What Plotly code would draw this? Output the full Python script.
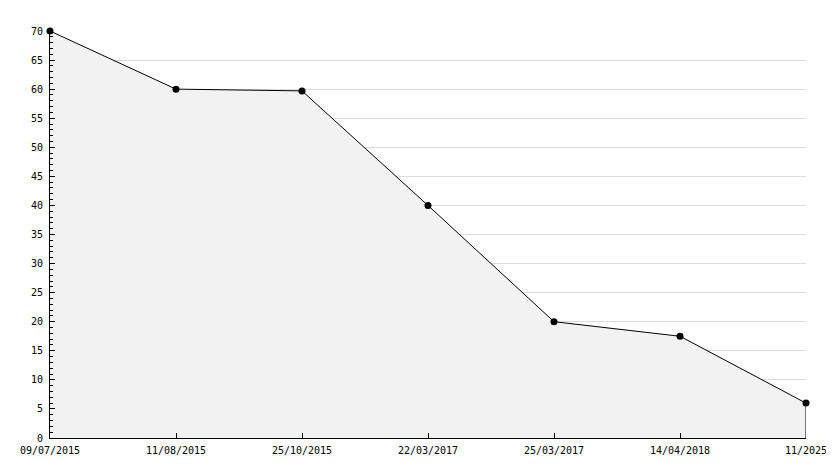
import plotly.graph_objects as go

dates = ["09/07/2015", "11/08/2015", "25/10/2015", "22/03/2017", "25/03/2017", "14/04/2018", "11/2025"]
values = [70, 60, 59.7, 40, 20, 17.5, 6]
y_ticks = list(range(0, 71, 5))

xs = list(range(len(dates)))

fig = go.Figure()
fig.add_trace(go.Scatter(
    x=xs, y=values, mode="lines+markers",
    fill="tozeroy", fillcolor="#f2f2f2",
    line=dict(color="black", width=1),
    marker=dict(color="black", size=7, symbol="circle"),
    hoverinfo="skip", showlegend=False, cliponaxis=False,
))
# right edge of filled area
fig.add_trace(go.Scatter(
    x=[xs[-1], xs[-1]], y=[0, values[-1]], mode="lines",
    line=dict(color="black", width=1), hoverinfo="skip", showlegend=False,
    cliponaxis=False,
))

font = dict(family="DejaVu Sans Mono", size=10, color="black")
# page body has an 8px default margin, so the figure is offset by 8px
fig.update_layout(
    width=826, height=460,
    margin=dict(l=42, r=28, t=23, b=30),
    paper_bgcolor="white", plot_bgcolor="white",
    font=font,
    xaxis=dict(
        range=[0, len(dates) - 1], tickvals=xs, ticktext=dates,
        showgrid=False, zeroline=False, automargin=False,
        showline=True, linecolor="black", linewidth=1,
        ticks="inside", ticklen=5, tickcolor="black",
        tickfont=font, ticklabelstandoff=3,
    ),
    yaxis=dict(
        range=[0, 70], tickvals=y_ticks,
        showgrid=True, gridcolor="#dcdcdc", gridwidth=1,
        zeroline=False, automargin=False,
        showline=True, linecolor="black", linewidth=1,
        ticks="inside", ticklen=5, tickcolor="black",
        minor=dict(dtick=1, ticks="inside", ticklen=3, tickcolor="black", showgrid=False),
        tickfont=font, ticklabelstandoff=4,
    ),
)

fig.write_html("out.html")
